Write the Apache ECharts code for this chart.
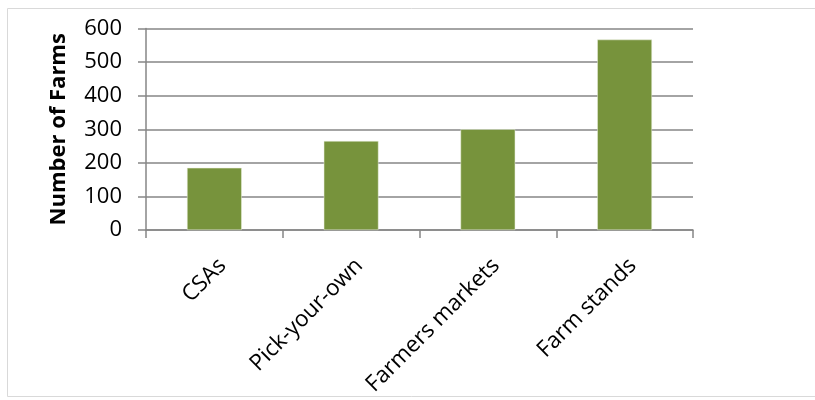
<!DOCTYPE html>
<html><head><meta charset="utf-8">
<script src="https://cdn.jsdelivr.net/npm/echarts@6/dist/echarts.min.js"></script>
<style>html,body{margin:0;padding:0;background:#fff}#c{width:815px;height:400px}</style>
</head><body><div id="c"></div>
<script>
const categories = ['CSAs', 'Pick-your-own', 'Farmers markets', 'Farm stands'];
const farms = [185, 265, 300, 567];
const yTicks = [0, 100, 200, 300, 400, 500, 600];

const chart = echarts.init(document.getElementById('c'), null, {renderer: 'canvas'});
const FONT = '"Open Sans", Lato, sans-serif';
chart.setOption({
  animation: false,
  graphic: [{type: 'rect', shape: {x: 7.5, y: 8.5, width: 820, height: 388}, style: {fill: 'none', stroke: '#d9d9d9', lineWidth: 1}, z: -1}],
  grid: {left: 146, right: 122, top: 28.5, bottom: 170, containLabel: false, outerBoundsMode: 'none'},
  xAxis: {
    type: 'category', data: categories,
    axisLine: {lineStyle: {color: '#868686', width: 1.5}},
    axisTick: {show: true, length: 8, lineStyle: {color: '#868686', width: 1.5}},
    axisLabel: {rotate: 45, fontFamily: FONT, fontSize: 22.5, color: '#000', margin: 24, align: 'right', verticalAlign: 'top'}
  },
  yAxis: {
    type: 'value', min: yTicks[0], max: yTicks[yTicks.length - 1], interval: 100,
    name: 'Number of Farms', nameLocation: 'middle', nameGap: 76,
    nameTextStyle: {fontFamily: FONT, fontSize: 22, fontWeight: 'bold', color: '#000'},
    axisLine: {show: true, lineStyle: {color: '#868686', width: 1.5}},
    axisTick: {show: true, length: 8, lineStyle: {color: '#868686', width: 1.5}},
    axisLabel: {fontFamily: FONT, fontSize: 22, color: '#000', margin: 24},
    splitLine: {lineStyle: {color: '#868686', width: 1.5}}
  },
  series: [{
    type: 'bar', data: farms, barWidth: '40%',
    itemStyle: {color: '#77933C', borderColor: '#e8eedc', borderWidth: 0.5}
  }]
});
</script></body></html>
